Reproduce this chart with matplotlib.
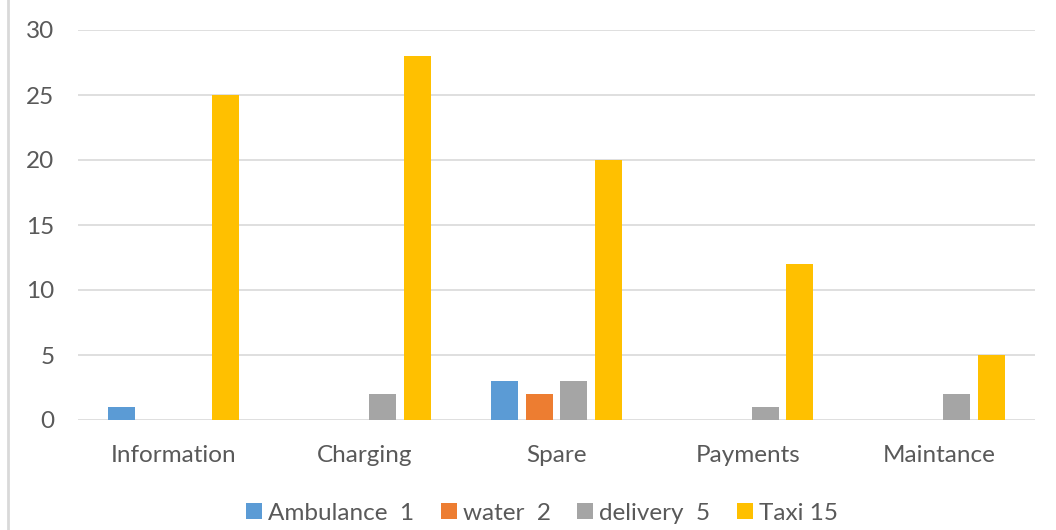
import numpy as np
import matplotlib.pyplot as plt
from matplotlib.lines import Line2D

categories = ["Information", "Charging", "Spare", "Payments", "Maintance"]
series_names = ["Ambulance  1", "water  2", "delivery  5", "Taxi 15"]
ambulance = [1, 0, 3, 0, 0]
water = [0, 0, 2, 0, 0]
delivery = [0, 2, 3, 1, 2]
taxi = [25, 28, 20, 12, 5]
colors = ["#5B9BD5", "#ED7D31", "#A5A5A5", "#FFC000"]

plt.rcParams['font.family'] = ['Lato', 'DejaVu Sans']
text_color = "#595959"

fig = plt.figure(figsize=(10.56, 5.3), dpi=100)
ax = fig.add_axes([78 / 1056, 1 - 420 / 530, (1035 - 78) / 1056, 390 / 530])

x = np.arange(len(categories))
width = 0.141
step = 0.181
handles = []
for i, (vals, name) in enumerate(zip([ambulance, water, delivery, taxi], series_names)):
    b = ax.bar(x + (i - 1.5) * step, vals, width, color=colors[i], label=name, zorder=3)
    handles.append(b)

ax.set_xlim(-0.5, len(categories) - 0.5)
ax.set_ylim(0, 30)
ax.set_yticks(range(0, 31, 5))
ax.set_xticks(x)
ax.set_xticklabels(categories)
ax.grid(axis='y', color="#D9D9D9", linewidth=1.2, zorder=0)
for s in ax.spines.values():
    s.set_visible(False)
ax.tick_params(axis='both', length=0, labelsize=17.5, labelcolor=text_color)
ax.tick_params(axis='y', pad=17)
ax.tick_params(axis='x', pad=18)

fig.legend(handles=handles, loc='center', bbox_to_anchor=(542 / 1056, 1 - 513 / 530),
           ncol=4, frameon=False, fontsize=17.5, labelcolor=text_color,
           handlelength=0.65, handleheight=0.65, handletextpad=0.25, columnspacing=1.1)

fig.add_artist(Line2D([8 / 1056, 8 / 1056], [0, 1], color="#D9D9D9", linewidth=2,
                      transform=fig.transFigure))

fig.savefig("out.png", dpi=100)
